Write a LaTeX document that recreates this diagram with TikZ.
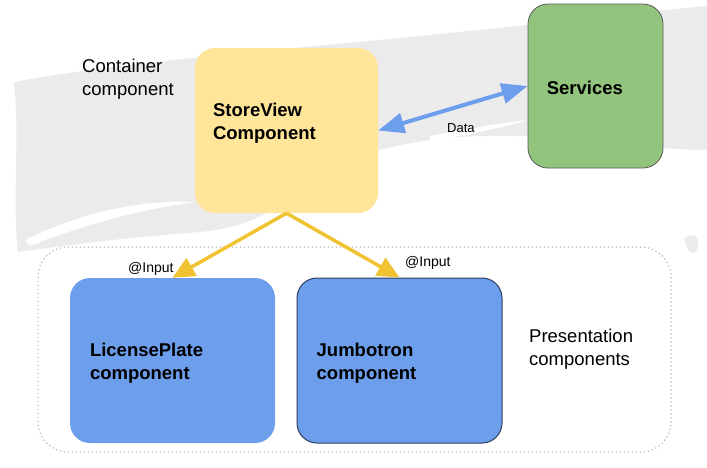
\documentclass[tikz,border=0pt]{standalone}
\usepackage{fontspec}
\setmainfont{Liberation Sans}
\usetikzlibrary{positioning,arrows.meta}
\definecolor{svyellow}{HTML}{FFE599}
\definecolor{srvgreen}{HTML}{93C47D}
\definecolor{compblue}{HTML}{6D9EEB}
\definecolor{inputgold}{HTML}{F1C232}
\definecolor{splash}{HTML}{EBEBEB}

\begin{document}
\begin{tikzpicture}[x=1pt,y=-1pt,
  comp/.style={rounded corners=20pt, inner sep=0pt},
  boxlabel/.style={inner sep=0pt, align=left, font=\fontsize{18.5}{23}\selectfont\bfseries},
  sidelabel/.style={inner sep=0pt, align=left, font=\fontsize{18.5}{23}\selectfont},
  smalllabel/.style={inner sep=0pt},
  inputarrow/.style={-{Triangle[length=22pt,width=20pt]}, line width=3.5pt, draw=inputgold},
  dataarrow/.style={{Triangle[length=26pt,width=20pt]}-{Triangle[length=26pt,width=20pt]}, line width=4pt, draw=compblue}]
\useasboundingbox (0,0) rectangle (707,467);
% brush strokes behind everything
\fill[splash] (14,82) .. controls (120,62) and (300,48) .. (420,36) .. controls (540,24) and (640,12) .. (707,6) -- (707,150) .. controls (620,150) and (500,118) .. (380,150) .. controls (300,180) and (280,225) .. (200,232) .. controls (120,238) and (60,246) .. (18,252) .. controls (12,200) and (20,140) .. (14,82) -- cycle;
\fill[white] (25,240) .. controls (90,208) and (150,200) .. (195,202) .. controls (150,208) and (90,222) .. (30,246) -- cycle;
\fill[white] (430,136) .. controls (470,128) and (510,122) .. (528,120) .. controls (510,126) and (470,134) .. (430,142) -- cycle;
\fill[splash] (684,238) .. controls (694,232) and (700,236) .. (698,246) .. controls (696,256) and (688,256) .. (684,238) -- cycle;

\node[draw=gray!70, dash pattern=on 1.2pt off 2.8pt, line width=1pt, rounded corners=30pt, minimum width=633pt, minimum height=205pt] (presgroup) at (354.5,349.5) {};

\node[comp, fill=svyellow, minimum width=183pt, minimum height=165pt] (sv) at (286.5,130.5) {};
\node[comp, fill=srvgreen, draw=black!65, line width=0.8pt, minimum width=135pt, minimum height=164pt] (srv) at (595.5,86) {};
\node[comp, fill=compblue, minimum width=205pt, minimum height=165pt] (lp) at (172.5,360.5) {};
\node[comp, fill=compblue, draw=black!60!compblue, line width=1pt, minimum width=205pt, minimum height=165pt] (jt) at (399.5,360.5) {};

\node[boxlabel, below right=55.5pt and 18pt of sv.north west] (svlabel) {StoreView\\Component};
\node[boxlabel, below right=77.5pt and 19pt of srv.north west] (srvlabel) {Services};
\node[boxlabel, below right=65.5pt and 20pt of lp.north west] (lplabel) {LicensePlate\\component};
\node[boxlabel, below right=65.5pt and 20pt of jt.north west] (jtlabel) {Jumbotron\\component};

\node[sidelabel, anchor=north west] (contlabel) at (82,58.5) {Container\\component};
\node[sidelabel, anchor=north west] (preslabel) at (529,328.8) {Presentation\\components};

\path (sv.south) edge[inputarrow] (lp.north) edge[inputarrow] (jt.north);
\path (sv.east) edge[dataarrow] (srv.west);

\node[smalllabel, anchor=base west, font=\fontsize{14}{16}\selectfont] (lpinput) at (128,272) {@Input};
\node[smalllabel, anchor=base west, font=\fontsize{14}{16}\selectfont] (jtinput) at (405,266) {@Input};
\node[smalllabel, anchor=base west, font=\fontsize{13}{15}\selectfont] (datalabel) at (447,132) {Data};
\end{tikzpicture}
\end{document}
